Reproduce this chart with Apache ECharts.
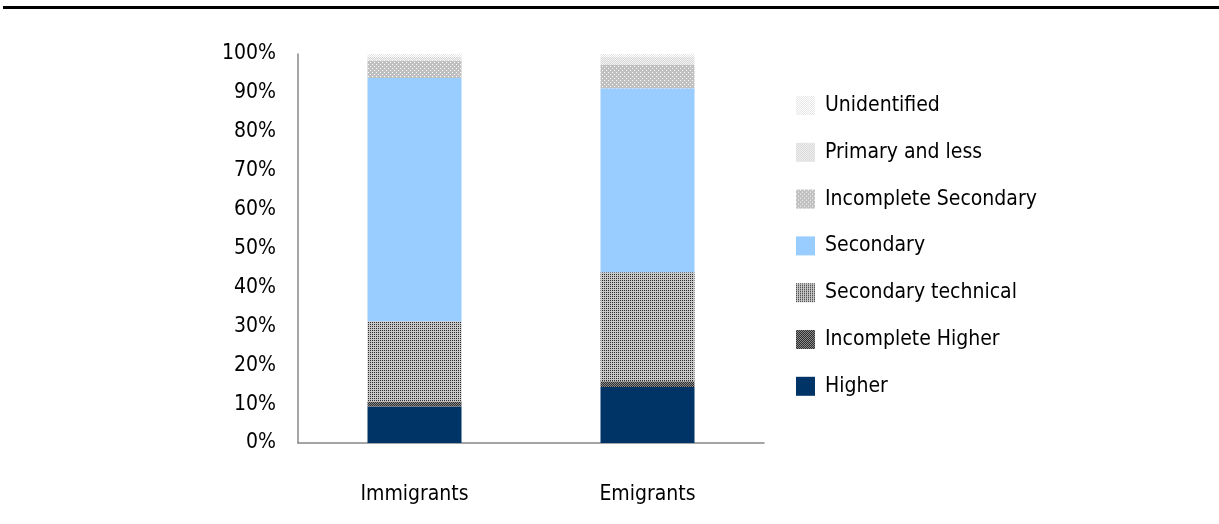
<!DOCTYPE html>
<html>
<head>
<meta charset="utf-8">
<script src="https://cdn.jsdelivr.net/npm/echarts@6/dist/echarts.min.js"></script>
<style>
  html, body { margin: 0; padding: 0; background: #fff; }
  #chart { width: 1219px; height: 524px; }
</style>
</head>
<body>
<div id="chart"></div>
<script>
// categories and series values (share of each education level, %)
const categories = ['Immigrants', 'Emigrants']
const higher = [9.4, 14.4]
const incompleteHigher = [1.3, 1.5]
const secondaryTechnical = [20.6, 28.0]
const secondary = [62.5, 47.3]
const incompleteSecondary = [4.5, 6.0]
const primaryAndLess = [1.0, 2.0]
const unidentified = [0.7, 0.8]
const yTicks = [0, 10, 20, 30, 40, 50, 60, 70, 80, 90, 100]

const FONT = '"DejaVu Sans Condensed", "Liberation Sans Narrow", sans-serif'

/**
 * Build a small repeating dot pattern on a canvas
 */
const makePattern = (bg, fg, size, dots) => {
  const c = document.createElement('canvas')
  c.width = size
  c.height = size
  const ctx = c.getContext('2d')
  ctx.fillStyle = bg
  ctx.fillRect(0, 0, size, size)
  ctx.fillStyle = fg
  dots.forEach(([x, y]) => ctx.fillRect(x, y, 1, 1))
  return { image: c, repeat: 'repeat' }
}

const fills = {
  higher: '#003366',
  incompleteHigher: makePattern('#2e2e2e', '#8a8a8a', 2, [[0, 0], [1, 1]]),
  secondaryTechnical: makePattern('#c8c8c8', '#2a2a2a', 2, [[0, 0]]),
  secondary: '#99ccff',
  incompleteSecondary: makePattern('#c0c0c0', '#ffffff', 4, [[0, 0], [2, 2]]),
  primaryAndLess: makePattern('#d6d6d6', '#f4f4f4', 2, [[0, 0], [1, 1]]),
  unidentified: makePattern('#e6e6e6', '#ffffff', 2, [[0, 0], [1, 1]])
}

const seriesDefs = [
  ['Higher', higher, fills.higher],
  ['Incomplete Higher', incompleteHigher, fills.incompleteHigher],
  ['Secondary technical', secondaryTechnical, fills.secondaryTechnical],
  ['Secondary', secondary, fills.secondary],
  ['Incomplete Secondary', incompleteSecondary, fills.incompleteSecondary],
  ['Primary and less', primaryAndLess, fills.primaryAndLess],
  ['Unidentified', unidentified, fills.unidentified]
]

const chart = echarts.init(document.getElementById('chart'))

const option = {
  animation: false,
  textStyle: { fontFamily: FONT },
  grid: { left: 298, right: 455, top: 54, bottom: 81 },
  legend: {
    orient: 'vertical',
    left: 791,
    top: 90,
    padding: 5,
    itemWidth: 19,
    itemHeight: 19,
    itemGap: 25.8,
    icon: 'rect',
    data: seriesDefs.map((s) => s[0]).reverse(),
    textStyle: { fontFamily: FONT, fontSize: 21, color: '#000', lineHeight: 19, padding: [0, 0, 0, 5] }
  },
  xAxis: {
    type: 'category',
    data: categories,
    axisLine: { lineStyle: { color: '#888', width: 1.5 } },
    axisTick: { show: false },
    axisLabel: { fontFamily: FONT, fontSize: 21, color: '#000', margin: 41 }
  },
  yAxis: {
    type: 'value',
    min: yTicks[0],
    max: yTicks[yTicks.length - 1],
    interval: 10,
    splitLine: { show: false },
    axisLine: { show: true, lineStyle: { color: '#888', width: 1.5 } },
    axisTick: { show: false },
    axisLabel: { fontFamily: FONT, fontSize: 21, color: '#000', margin: 22, formatter: '{value}%' }
  },
  series: seriesDefs.map(([name, data, color]) => ({
    name,
    type: 'bar',
    stack: 'Total',
    barWidth: 94,
    data,
    itemStyle: { color }
  })),
  graphic: [
    {
      type: 'rect',
      shape: { x: 3, y: 6, width: 1216, height: 3 },
      style: { fill: '#000' }
    }
  ]
}

chart.setOption(option)
</script>
</body>
</html>
